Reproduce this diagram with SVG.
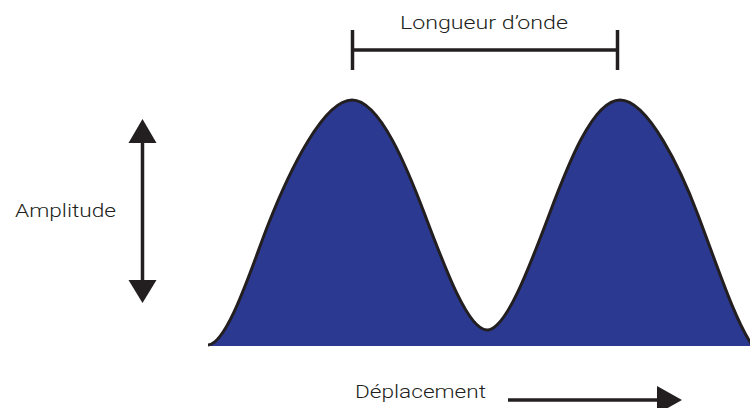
<svg xmlns="http://www.w3.org/2000/svg" width="750" height="408" viewBox="0 0 750 408">
  <style>
    .lbl { font-family: Roboto, "Liberation Sans", sans-serif; font-size: 19px; font-weight: 300; fill: #231f20; }
    .ln { stroke: #231f20; stroke-width: 3.5; fill: none; }
    .head { fill: #231f20; }
  </style>
  <rect width="750" height="408" fill="#ffffff"/>
  <g id="wave">
    <path d="M208,345 C228,344 253,263 268,225 C290,169 324,100 352,100 C380,100 408,170 425,215 C445,268 468,330 487,330 C506,330 529,268 549,215 C566,170 592,100 620,100 C648,100 681,170 698,215 C718,268 735,320 752,345 L752,346 L208,346 Z" fill="#2b3990"/>
    <path d="M208,345 C228,344 253,263 268,225 C290,169 324,100 352,100 C380,100 408,170 425,215 C445,268 468,330 487,330 C506,330 529,268 549,215 C566,170 592,100 620,100 C648,100 681,170 698,215 C718,268 735,320 752,345" stroke="#231f20" stroke-width="3" fill="none"/>
  </g>
  <g id="connectors">
    <g id="wavelength-bracket">
      <line class="ln" x1="352.5" y1="50" x2="617.5" y2="50" stroke-width="4"/>
      <line class="ln" x1="352.5" y1="30" x2="352.5" y2="70"/>
      <line class="ln" x1="617.5" y1="30" x2="617.5" y2="70"/>
    </g>
    <g id="amplitude-arrow">
      <line class="ln" x1="142.5" y1="138" x2="142.5" y2="285" stroke-width="4"/>
      <polygon class="head" points="142.5,119 128.5,143 156.5,143"/>
      <polygon class="head" points="142.5,303 128.5,280 156.5,280"/>
    </g>
    <g id="displacement-arrow">
      <line class="ln" x1="508" y1="400" x2="662" y2="400" stroke-width="4"/>
      <polygon class="head" points="682,400 657,386 657,414"/>
    </g>
  </g>
  <g id="label-wavelength">
    <text class="lbl" x="400" y="29" textLength="168" lengthAdjust="spacingAndGlyphs">Longueur d’onde</text>
  </g>
  <g id="label-amplitude">
    <text class="lbl" x="15" y="217" textLength="101" lengthAdjust="spacingAndGlyphs">Amplitude</text>
  </g>
  <g id="label-displacement">
    <text class="lbl" x="355" y="398" textLength="131" lengthAdjust="spacingAndGlyphs">Déplacement</text>
  </g>
</svg>
